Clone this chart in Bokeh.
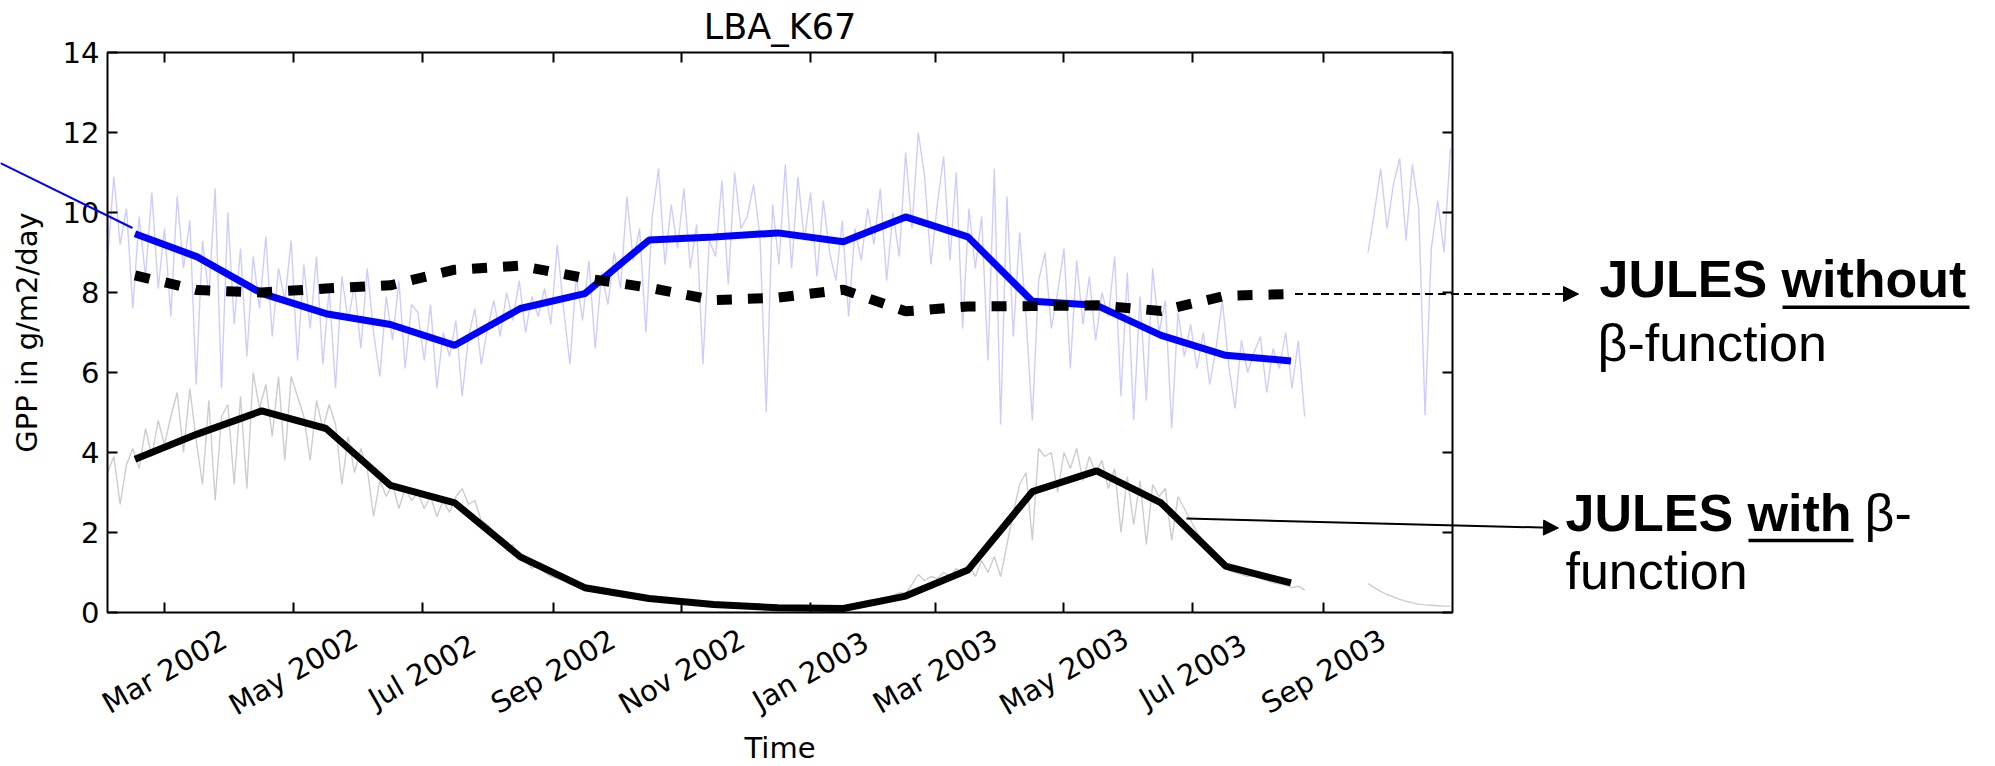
import math
import numpy as np
import pandas as pd
from bokeh.plotting import figure
from bokeh.models import (Range1d, FixedTicker, LinearAxis, DatetimeAxis, Label, Arrow,
                          NormalHead, BoxAnnotation)
from bokeh.embed import file_html
from bokeh.resources import INLINE

# ---------------- data ----------------
daily_start = "2002-02-02"
daily_step_days = 3
nan = float("nan")

# observed daily GPP (light blue), every 3 days, gap late Aug - mid Sep 2003
obs_daily = [
    8.8, 10.9, 9.2, 10.1, 7.6, 9.9, 8.4, 10.5, 8.1,
    9.6, 7.4, 10.4, 8.6, 9.8, 5.7, 9.3, 7.9, 10.6, 5.6, 10.0,
    7.2, 9.1, 6.4, 8.9, 7.6, 9.4, 6.9, 8.6, 7.8, 9.3,
    6.3, 8.7, 7.1, 8.9, 6.2, 8.1, 5.6, 8.4, 7.3, 8.2,
    6.6, 8.6, 7.0, 5.9, 7.9, 6.8, 8.3, 6.1, 7.7, 7.5,
    6.3, 7.7, 5.6, 7.0, 6.4, 7.3, 5.4, 6.9, 7.6, 6.2,
    7.1, 7.8, 6.9, 8.0, 7.3, 8.3, 7.0, 7.9, 7.4, 8.1, 7.2,
    9.2, 7.6, 6.2, 8.4, 7.3, 8.8, 6.6, 8.5, 7.7, 9.0,
    8.1, 10.4, 8.8, 9.6, 7.0, 9.9, 11.1, 8.7, 10.2, 9.1,
    10.6, 8.6, 9.7, 6.2, 9.3, 8.9, 10.8, 8.2, 11.0, 9.6,
    9.9, 10.7, 9.4, 5.0, 10.2, 8.7, 11.2, 8.6, 10.9, 9.3,
    10.5, 8.4, 10.3, 9.0, 8.3, 9.8, 7.4, 9.6, 8.8, 10.1,
    9.2, 10.6, 8.3, 10.0, 8.9, 11.5, 9.6, 12.0, 10.9, 8.7,
    10.2, 11.4, 8.8, 11.0, 7.1, 10.1, 8.6, 9.9, 6.3, 11.1,
    4.7, 10.4, 6.9, 9.5, 7.4, 4.8, 8.3, 9.0, 7.1, 8.0,
    9.1, 6.1, 8.8, 7.2, 8.4, 6.8, 8.0, 7.4, 8.9, 5.4, 8.5,
    4.8, 7.9, 5.3, 8.6, 7.0, 7.8, 4.6, 7.5, 6.4, 7.2,
    6.1, 7.0, 5.7, 6.6, 7.8, 6.2, 5.1, 6.8, 6.0, 6.5,
    6.9, 5.5, 6.6, 6.1, 7.0, 5.6, 6.8, 4.9,
    nan, nan, nan, nan, nan, nan, nan, nan, nan,
    9.0, 10.0, 11.1, 9.6, 10.7, 11.35, 9.3, 11.2, 10.1, 4.93, 9.1, 10.3, 9.0, 11.6,
]

# JULES with beta-function, daily (light grey)
with_beta_daily = [
    3.5, 3.9, 2.7, 3.7, 4.1, 3.6, 4.6, 3.9, 4.8,
    4.2, 4.9, 5.5, 4.0, 5.6, 4.3, 3.2, 5.3, 2.8, 4.9, 5.2,
    3.2, 5.4, 3.1, 6.0, 5.1, 5.7, 4.4, 5.9, 3.8, 5.9,
    5.4, 4.9, 3.8, 5.3, 4.6, 5.2, 4.7, 3.2, 4.4, 3.5,
    4.1, 3.6, 2.4, 3.3, 2.9, 3.2, 2.6, 3.1, 2.8, 3.0,
    2.6, 2.9, 2.4, 2.8, 2.5, 2.9, 3.1, 2.7, 2.8, 2.3,
    2.2, 2.0, 1.9, 1.6, 1.7, 1.4, 1.3, 1.1, 1.2, 1.0, 0.9,
    0.85, 0.8, 0.7, 0.72, 0.6, 0.55, 0.6, 0.5, 0.45, 0.48,
    0.42, 0.4, 0.36, 0.38, 0.33, 0.3, 0.32, 0.28, 0.26, 0.25,
    0.23, 0.22, 0.2, 0.21, 0.18, 0.19, 0.17, 0.16, 0.15, 0.14,
    0.13, 0.12, 0.13, 0.11, 0.12, 0.1, 0.11, 0.1, 0.09, 0.1,
    0.09, 0.08, 0.1, 0.09, 0.1, 0.12, 0.15, 0.2, 0.26, 0.3,
    0.32, 0.3, 0.35, 0.42, 0.5, 0.48, 0.7, 0.95, 0.8, 0.9,
    0.85, 1.0, 0.9, 1.1, 0.95, 1.2, 0.9, 1.3, 1.0, 1.4,
    0.9, 1.7, 2.5, 3.2, 3.5, 1.8, 4.1, 3.9, 4.0, 3.0,
    4.0, 3.6, 4.1, 3.3, 3.9, 3.5, 3.8, 3.1, 3.6, 2.0, 3.4,
    2.2, 3.3, 1.7, 3.2, 2.9, 3.1, 1.8, 2.9, 2.6, 2.3,
    2.0, 1.8, 1.6, 1.3, 1.2, 1.05, 1.0, 0.95, 0.9, 0.92,
    0.85, 0.8, 0.74, 0.72, 0.68, 0.62, 0.66, 0.56,
    nan, nan, nan, nan, nan, nan, nan, nan, nan,
    0.72, 0.62, 0.53, 0.45, 0.39, 0.33, 0.28, 0.24, 0.21, 0.19, 0.18, 0.17, 0.16, 0.16,
]

months = ["2002-02", "2002-03", "2002-04", "2002-05", "2002-06", "2002-07", "2002-08",
          "2002-09", "2002-10", "2002-11", "2002-12", "2003-01", "2003-02", "2003-03",
          "2003-04", "2003-05", "2003-06", "2003-07", "2003-08"]
obs_monthly = [9.47, 8.89, 7.98, 7.47, 7.2, 6.68, 7.6, 7.97, 9.31, 9.39, 9.49, 9.27,
               9.89, 9.39, 7.78, 7.68, 6.93, 6.43, 6.29]
no_beta_monthly = [8.43, 8.06, 8.0, 8.1, 8.18, 8.57, 8.67, 8.36, 8.12, 7.81, 7.87, 8.07,
                   7.53, 7.65, 7.66, 7.68, 7.54, 7.92, 7.96]
with_beta_monthly = [3.83, 4.46, 5.04, 4.6, 3.18, 2.74, 1.39, 0.62, 0.35, 0.2, 0.12, 0.1,
                     0.41, 1.06, 3.02, 3.54, 2.74, 1.16, 0.74]

x_tick_dates = ["2002-03-01", "2002-05-01", "2002-07-01", "2002-09-01", "2002-11-01",
                "2003-01-01", "2003-03-01", "2003-05-01", "2003-07-01", "2003-09-01"]
x_tick_labels = ["Mar 2002", "May 2002", "Jul 2002", "Sep 2002", "Nov 2002",
                 "Jan 2003", "Mar 2003", "May 2003", "Jul 2003", "Sep 2003"]
y_ticks = [0, 2, 4, 6, 8, 10, 12, 14]
x_start, x_end = "2002-02-02", "2003-11-01"
y_start, y_end = 0, 14

# ---------------- derived positions ----------------
def ms(ts):
    return pd.Timestamp(ts).value / 1e6

daily_dates = pd.date_range(daily_start, periods=len(obs_daily), freq=f"{daily_step_days}D")
m_start = pd.to_datetime([m + "-01" for m in months])
m_end = m_start + pd.offsets.MonthBegin(1)
month_mid = m_start + (m_end - m_start) / 2

X0, X1 = ms(x_start), ms(x_end)

# plot box geometry on the page (canvas pixels); the Bokeh frame spans the whole page
FL, FR, FT, FB = 107, 1452, 52, 612
W, H = 1995, 766
kx = (X1 - X0) / (FR - FL)
ky = (y_end - y_start) / (FB - FT)
x_range = Range1d(X0 - FL * kx, X1 + (W - FR) * kx)
y_range = Range1d(y_start - (H - FB) * ky, y_end + FT * ky)

def x2px(v):
    return FL + (v - X0) / kx

def y2px(v):
    return FB - (v - y_start) / ky

FONT = "DejaVu Sans"
TS = "29px"

p = figure(width=W, height=H, x_axis_type="datetime", output_backend="svg",
           toolbar_location=None, x_range=x_range, y_range=y_range,
           min_border=0, min_border_left=0, min_border_right=0, min_border_top=0,
           min_border_bottom=0)
p.background_fill_color = "white"
p.border_fill_color = "white"
p.outline_line_color = None
p.xgrid.visible = False
p.ygrid.visible = False

xt = FixedTicker(ticks=[ms(d) for d in x_tick_dates])
yt = FixedTicker(ticks=y_ticks)

def style_ticks(ax):
    ax.major_tick_in = 10
    ax.major_tick_out = 0
    ax.minor_tick_in = 0
    ax.minor_tick_out = 0
    ax.major_tick_line_width = 2
    ax.major_tick_line_color = "black"
    ax.axis_line_color = None

xa = p.xaxis[0]
xa.ticker = xt
xa.fixed_location = y_start
xa.bounds = (X0, X1)
style_ticks(xa)
xa.major_label_text_color = None
xa.axis_label = "Time"
xa.axis_label_text_font = FONT
xa.axis_label_text_font_size = TS
xa.axis_label_text_font_style = "normal"
xa.axis_label_text_color = "black"
xa.axis_label_standoff = 118

ya = p.yaxis[0]
ya.ticker = yt
ya.fixed_location = X0
ya.bounds = (y_start, y_end)
style_ticks(ya)
ya.major_label_text_font = FONT
ya.major_label_text_font_size = TS
ya.major_label_text_color = "black"
ya.major_label_standoff = 8
ya.axis_label = "GPP in g/m2/day"
ya.axis_label_text_font = FONT
ya.axis_label_text_font_size = TS
ya.axis_label_text_font_style = "normal"
ya.axis_label_text_color = "black"
ya.axis_label_standoff = 16

top = DatetimeAxis(ticker=xt, fixed_location=y_end, bounds=(X0, X1))
style_ticks(top)
top.major_label_text_color = None
p.add_layout(top, "above")

right = LinearAxis(ticker=yt, fixed_location=X1, bounds=(y_start, y_end))
style_ticks(right)
right.major_label_text_color = None
p.add_layout(right, "right")

# plot box
p.add_layout(BoxAnnotation(left=X0, right=X1, bottom=y_start, top=y_end,
                           fill_color=None, line_color="black", line_width=2,
                           line_alpha=1, level="overlay"))

MID = 0.346  # baseline sits this many em below a "middle"-anchored label

def text_at(text, px, baseline_py, size_px, font, bold=False, align="left"):
    p.add_layout(Label(x=px, y=baseline_py - MID * size_px, x_units="canvas",
                       y_units="canvas", text=text, text_align=align,
                       text_baseline="middle", text_font=font,
                       text_font_size=f"{size_px}px",
                       text_font_style="bold" if bold else "normal", text_color="black"))

# title
text_at("LBA_K67", (FL + FR) / 2, 38.3, 35, FONT, align="center")

# rotated date labels, centred under each tick
for d, t in zip(x_tick_dates, x_tick_labels):
    p.add_layout(Label(x=x2px(ms(d)), y=671, x_units="canvas", y_units="canvas",
                       text=t, angle=math.pi / 6,
                       text_align="center", text_baseline="middle",
                       text_font=FONT, text_font_size=TS, text_color="black"))

# daily series
p.line(daily_dates, obs_daily, line_color="blue", line_alpha=0.2, line_width=1.4)
p.line(daily_dates, with_beta_daily, line_color="black", line_alpha=0.2, line_width=1.4)
# monthly series
p.line(month_mid, obs_monthly, line_color="#0000ff", line_width=7)
p.line(month_mid, with_beta_monthly, line_color="black", line_width=7)
p.line(month_mid, no_beta_monthly, line_color="black", line_width=10, line_dash="15 16")

# ---------------- annotations (canvas pixels) ----------------
def arrow(x0, y0, x1, y1, head=True, **kw):
    end = NormalHead(size=15, fill_color="black", line_color="black") if head else None
    p.add_layout(Arrow(end=end, x_start=x0, y_start=y0, x_end=x1, y_end=y1,
                       start_units="canvas", end_units="canvas", **kw))

# thin blue pointer entering from the left
arrow(0, 162.7, 132, 227.5, head=False, line_color="blue", line_width=2)
# dashed arrow to "JULES without"
arrow(x2px(ms(month_mid[-1])) + 4, y2px(no_beta_monthly[-1]), 1578, 293.5,
      line_color="black", line_width=2, line_dash="8 5")
# solid arrow to "JULES with"
arrow(x2px(ms("2003-06-28")), y2px(2.35), 1558, 527.5, line_color="black", line_width=2)

AF = "Liberation Sans"
AS = 52
text_at("JULES without", 1599, 296.7, AS, AF, bold=True)
text_at("\u03b2-function", 1597, 360, AS, AF)
text_at("JULES with", 1565, 530, AS, AF, bold=True)
text_at("\u03b2-", 1864, 530, AS, AF)
text_at("function", 1565, 588.3, AS, AF)

for (a, b, yy) in [(1782, 1969, 306.7), (1748, 1853, 540)]:
    arrow(a, yy, b, yy, head=False, line_color="black", line_width=3.5)

open("out.html", "w").write(file_html(p, INLINE))
